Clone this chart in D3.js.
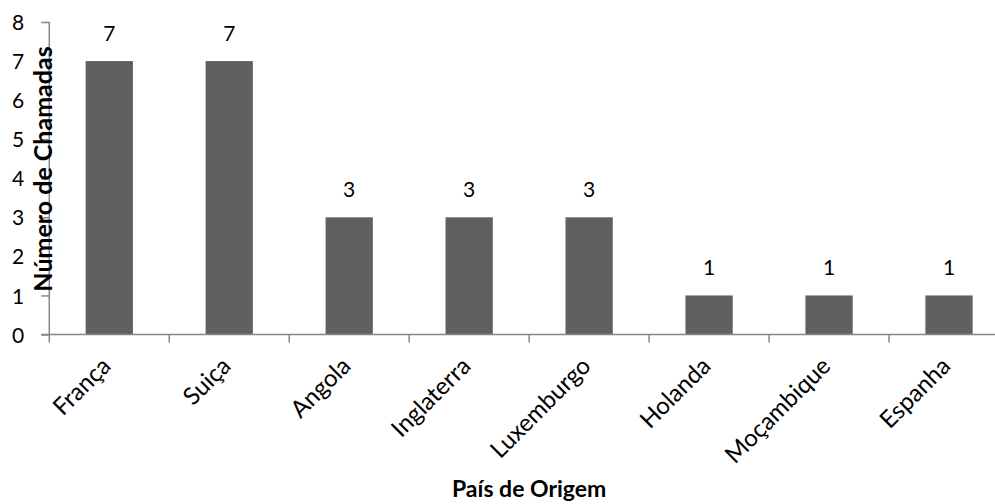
<!DOCTYPE html>
<html><head><meta charset="utf-8">
<script src="https://cdn.jsdelivr.net/npm/d3@7/dist/d3.min.js"></script>
<style>
body{margin:0;background:#fff;}
text{font-family:Lato,"Open Sans",sans-serif;}
</style></head>
<body><svg id="c" width="995" height="504"></svg>
<script>
const categories = ["França","Suiça","Angola","Inglaterra","Luxemburgo","Holanda","Moçambique","Espanha"];
const values = [7,7,3,3,3,1,1,1];
const yTicks = [0,1,2,3,4,5,6,7,8];
const yTitle = "Número de Chamadas";
const xTitle = "País de Origem";

const svg = d3.select("#c");
const mLeft = 49.3, mRight = 1009, mTop = 22, mBottom = 334.5;
const x = d3.scaleBand().domain(categories).range([mLeft, mRight]).paddingInner(0.606).paddingOuter(0.303);
const y = d3.scaleLinear().domain([0,8]).range([mBottom, mTop]);
const axisColor = "#868686";

// bars
svg.append("g").selectAll("rect").data(values).join("rect")
  .attr("x", (d,i)=>x(categories[i]))
  .attr("width", x.bandwidth())
  .attr("y", d=>y(d))
  .attr("height", d=>y(0)-y(d))
  .attr("fill", "#606060");

// y axis
const ya = svg.append("g").attr("transform", `translate(${mLeft},0)`)
  .call(d3.axisLeft(y).tickValues(yTicks).tickSize(8).tickPadding(17).tickFormat(d3.format("d")));
ya.select(".domain").attr("stroke", axisColor).attr("stroke-width",1.5).attr("d", `M0,${mTop}V${mBottom}`);
ya.selectAll(".tick line").attr("stroke", axisColor).attr("stroke-width",1.5);
ya.selectAll(".tick text").attr("fill","#000").style("font-size","21px").attr("dy","0.36em").style("font-family","Lato,sans-serif");

// x axis
const xb = d3.scaleLinear().domain([0, categories.length]).range([mLeft, mRight]);
const xa = svg.append("g").attr("transform", `translate(0,${mBottom})`);
xa.append("path").attr("d", `M${mLeft-8},0H${mRight}`).attr("stroke", axisColor).attr("stroke-width",1.5);
xa.selectAll("line").data(d3.range(categories.length+1)).join("line")
  .attr("x1", d=>xb(d)).attr("x2", d=>xb(d)).attr("y1",0).attr("y2",8)
  .attr("stroke", axisColor).attr("stroke-width",1.5);

// category labels
svg.append("g").selectAll("text").data(categories).join("text")
  .attr("transform", d=>`translate(${x(d)+x.bandwidth()/2+3},${mBottom+33}) rotate(-45)`)
  .attr("text-anchor","end")
  .style("font-size","24px")
  .text(d=>d);

// data labels
svg.append("g").selectAll("text").data(values).join("text")
  .attr("x", (d,i)=>x(categories[i])+x.bandwidth()/2)
  .attr("y", d=>y(d)-20)
  .attr("text-anchor","middle")
  .style("font-size","21px")
  .text(d=>d);

// titles
svg.append("text").attr("transform", `translate(52,169) rotate(-90)`)
  .attr("text-anchor","middle").style("font-size","25px").style("font-weight","bold").text(yTitle);
svg.append("text").attr("x", (mLeft+mRight)/2).attr("y", 497)
  .attr("text-anchor","middle").style("font-size","23px").style("font-weight","bold").text(xTitle);
</script></body></html>
